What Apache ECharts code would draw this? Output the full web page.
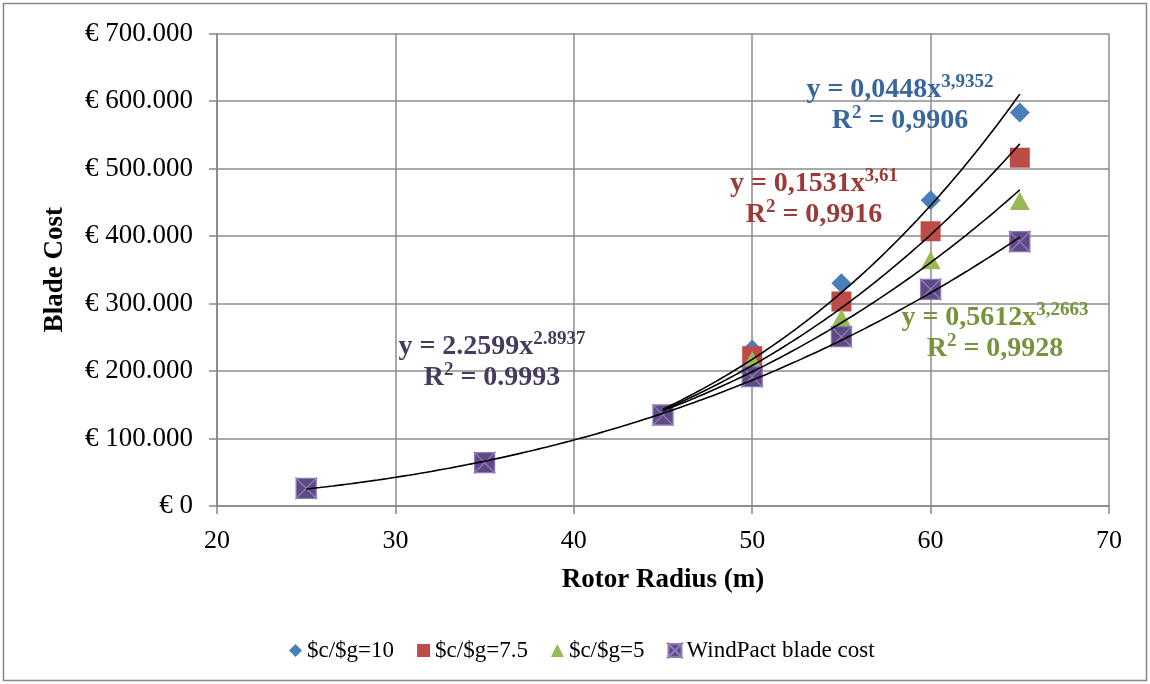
<!DOCTYPE html>
<html>
<head>
<meta charset="utf-8">
<script src="https://cdn.jsdelivr.net/npm/echarts@6/dist/echarts.min.js"></script>
<style>
html,body{margin:0;padding:0;background:#fff;}
#chart{width:1150px;height:684px;}
</style>
</head>
<body>
<div id="chart"></div>
<script>
// ---- data ----
const seriesNames = ['$c/$g=10', '$c/$g=7.5', '$c/$g=5', 'WindPact blade cost'];
const radiusSub = [45, 50, 55, 60, 65];
const radiusAll = [25, 35, 45, 50, 55, 60, 65];
const cost10 = [134800, 232000, 330000, 453000, 583000];
const cost75 = [134800, 222000, 303000, 407000, 516000];
const cost5 = [134800, 216000, 278000, 364000, 452000];
const costWindPact = [26200, 64200, 134800, 191600, 250800, 321000, 391600];
// power trendlines y = a * x^b as printed on the chart
const fitA = [0.0448, 0.1531, 0.5612, 2.2599];
const fitB = [3.9352, 3.61, 3.2663, 2.8937];
const fitStart = [45, 45, 45, 25];
const fitEnd = [65, 65, 65, 65];
const eqLine1 = [['y = 0,0448x', '3,9352'], ['y = 0,1531x', '3,61'], ['y = 0,5612x', '3,2663'], ['y = 2.2599x', '2.8937']];
const eqLine2 = [' = 0,9906', ' = 0,9916', ' = 0,9928', ' = 0.9993'];
const yTicks = [0, 100000, 200000, 300000, 400000, 500000, 600000, 700000];
const xTicks = [20, 30, 40, 50, 60, 70];

const FONT = "'Liberation Serif', 'Times New Roman', serif";
const markerColors = ['#4a7ebb', '#be4b48', '#98b954', '#5e4a85'];
const eqColors = ['#3a66a0', '#9b3a38', '#77933c', '#463a5e'];
const eqPos = [[900, 104], [814, 198], [995, 332], [492, 361]];

function zip(xs, ys) { return xs.map((x, i) => [x, ys[i]]); }
function fitCurve(k) {
  const pts = [];
  for (let x = fitStart[k]; x <= fitEnd[k] + 1e-9; x += 0.25) {
    pts.push([x, fitA[k] * Math.pow(x, fitB[k])]);
  }
  return pts;
}
function euro(v) {
  if (v === 0) return '€ 0';
  return '€ ' + String(Math.round(v)).replace(/\B(?=(\d{3})+(?!\d))/g, '.');
}

const chart = echarts.init(document.getElementById('chart'), null, {renderer: 'canvas'});

const scatterData = [zip(radiusSub, cost10), zip(radiusSub, cost75), zip(radiusSub, cost5), zip(radiusAll, costWindPact)];
const symbols = ['diamond', 'rect', 'triangle', 'path://M0,0L10,0L5,5Z M10,0L10,10L5,5Z M10,10L0,10L5,5Z M0,10L0,0L5,5Z'];
const symSizes = [[20, 20], [20, 20], [20, 18], [20, 20]];

const series = [];
for (let k = 0; k < 4; k++) {
  series.push({
    name: seriesNames[k],
    type: 'scatter',
    data: scatterData[k],
    symbol: symbols[k],
    symbolSize: symSizes[k],
    itemStyle: k === 3 ? {color: markerColors[k], borderColor: '#8d79b6', borderWidth: 1.3, opacity: 1} : {color: markerColors[k], opacity: 1},
    z: 2 + k
  });
}
for (let k = 0; k < 4; k++) {
  series.push({
    name: 'fit' + k,
    type: 'line',
    data: fitCurve(k),
    showSymbol: false,
    symbol: 'none',
    smooth: false,
    lineStyle: {color: '#000', width: 1.6},
    z: 10
  });
}

const graphics = [{
  type: 'rect',
  shape: {x: 3.5, y: 3.5, width: 1143, height: 677},
  style: {fill: 'none', stroke: '#868686', lineWidth: 1.5},
  silent: true
}];
for (let k = 0; k < 4; k++) {
  graphics.push({
    type: 'text',
    x: eqPos[k][0], y: eqPos[k][1],
    z: 20,
    style: {
      text: '{m|' + eqLine1[k][0] + '}{s|' + eqLine1[k][1] + '}\n{m|R}{s|2}{m|' + eqLine2[k] + '}',
      align: 'center',
      verticalAlign: 'middle',
      fill: eqColors[k],
      font: 'bold 28px ' + FONT,
      rich: {
        m: {fontSize: 28, fontWeight: 'bold', fontFamily: FONT, lineHeight: 31, fill: eqColors[k], verticalAlign: 'bottom'},
        s: {fontSize: 19, fontWeight: 'bold', fontFamily: FONT, lineHeight: 31, fill: eqColors[k], verticalAlign: 'top'}
      }
    }
  });
}

chart.setOption({
  animation: false,
  backgroundColor: '#fff',
  grid: {left: 217, right: 41, top: 33.5, bottom: 178},
  legend: {
    data: seriesNames,
    left: 284,
    top: 634,
    itemWidth: 13,
    itemHeight: 13,
    itemGap: 23,
    textStyle: {fontFamily: FONT, fontSize: 23, color: '#000'}
  },
  xAxis: {
    type: 'value',
    min: xTicks[0], max: xTicks[xTicks.length - 1], interval: 10,
    name: 'Rotor Radius (m)',
    nameLocation: 'middle',
    nameGap: 61,
    nameTextStyle: {fontFamily: FONT, fontSize: 27, fontWeight: 'bold', color: '#000'},
    axisLine: {show: true, lineStyle: {color: '#868686', width: 1.5}},
    axisTick: {show: true, length: 8, lineStyle: {color: '#868686', width: 1.5}},
    axisLabel: {fontFamily: FONT, fontSize: 26, color: '#000', margin: 22},
    splitLine: {show: true, lineStyle: {color: '#8c8c8c', width: 1.5}}
  },
  yAxis: {
    type: 'value',
    min: yTicks[0], max: yTicks[yTicks.length - 1], interval: 100000,
    name: 'Blade Cost',
    nameLocation: 'middle',
    nameRotate: 90,
    nameGap: 148,
    nameTextStyle: {fontFamily: FONT, fontSize: 27, fontWeight: 'bold', color: '#000'},
    axisLine: {show: true, lineStyle: {color: '#868686', width: 1.5}},
    axisTick: {show: true, length: 8, lineStyle: {color: '#868686', width: 1.5}},
    axisLabel: {fontFamily: FONT, fontSize: 27, color: '#000', margin: 24, formatter: euro},
    splitLine: {show: true, lineStyle: {color: '#8c8c8c', width: 1.5}}
  },
  series: series,
  graphic: graphics
});
</script>
</body>
</html>
